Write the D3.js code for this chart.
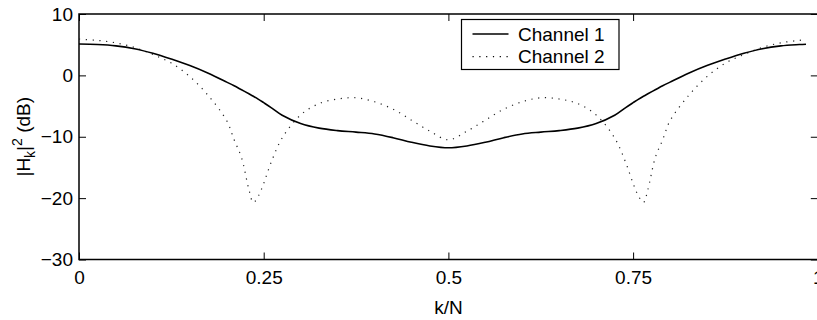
<!DOCTYPE html>
<html>
<head>
<meta charset="utf-8">
<script src="https://cdn.jsdelivr.net/npm/d3@7"></script>
<style>
  body { margin: 0; background: #fff; }
  svg { display: block; font-family: "Liberation Sans", Arial, Helvetica, sans-serif; }
</style>
</head>
<body>
<div id="chart"></div>
<script>
// ---------------------------
// Data
// ---------------------------
const kValues = [
  0, 0.025, 0.05, 0.075, 0.1, 0.125, 0.15, 0.175, 0.2, 0.21, 0.22, 0.23, 0.236, 0.243,
  0.25, 0.26, 0.275, 0.3, 0.325, 0.35, 0.375, 0.4, 0.425, 0.45, 0.475, 0.5,
  0.525, 0.55, 0.575, 0.6, 0.625, 0.65, 0.675, 0.7, 0.725, 0.74, 0.75, 0.757, 0.764,
  0.77, 0.78, 0.79, 0.8, 0.825, 0.85, 0.875, 0.9, 0.925, 0.95, 0.975, 0.984
];
const channel1 = [
  5.1, 5.02, 4.8, 4.35, 3.6, 2.65, 1.6, 0.35, -1.1, -1.7, -2.35, -3.0, -3.4, -3.9,
  -4.45, -5.25, -6.5, -7.85, -8.6, -9.0, -9.25, -9.55, -10.15, -10.9, -11.5, -11.8,
  -11.5, -10.9, -10.15, -9.55, -9.25, -9.0, -8.6, -7.85, -6.5, -5.25, -4.45, -3.9, -3.4,
  -3.0, -2.35, -1.7, -1.1, 0.35, 1.6, 2.65, 3.6, 4.35, 4.8, 5.02, 5.08
];
const channel2 = [
  5.9, 5.7, 5.3, 4.55, 3.4, 2.0, -0.2, -3.3, -7.4, -10.5, -13.4, -18.6, -20.7, -19.6,
  -17.6, -14.2, -10.2, -6.45, -4.6, -3.85, -3.65, -4.3, -5.5, -7.3, -9.1, -10.5,
  -9.1, -7.3, -5.5, -4.3, -3.65, -3.85, -4.6, -6.45, -10.2, -14.2, -17.6, -19.6, -20.7,
  -18.6, -13.4, -10.5, -7.4, -3.3, -0.2, 2.0, 3.4, 4.55, 5.3, 5.7, 5.8
];
const xTicks = [0, 0.25, 0.5, 0.75, 1];
const xTickLabels = ['0', '0.25', '0.5', '0.75', '1'];
const yTicks = [10, 0, -10, -20, -30];
const seriesNames = ['Channel 1', 'Channel 2'];

// ---------------------------
// Layout
// ---------------------------
const width = 817, height = 320;
const plot = { left: 79, right: 817.8, top: 14, bottom: 259.5 };
const tickLen = 7;
const fontSize = 19;

const svg = d3.select('#chart').append('svg')
  .attr('width', width)
  .attr('height', height);

const x = d3.scaleLinear().domain([0, 1]).range([plot.left, plot.right]);
const y = d3.scaleLinear().domain([-30, 10]).range([plot.bottom, plot.top]);

// ---------------------------
// Axes (ticks inward, box)
// ---------------------------
const xAxis = svg.append('g')
  .attr('transform', `translate(0,${plot.bottom})`)
  .call(d3.axisBottom(x)
    .tickValues(xTicks)
    .tickFormat((d, i) => xTickLabels[i])
    .tickSizeInner(-tickLen)
    .tickSizeOuter(0)
    .tickPadding(11));

const xTop = svg.append('g')
  .attr('transform', `translate(0,${plot.top})`)
  .call(d3.axisTop(x).tickValues(xTicks).tickFormat('').tickSizeInner(-tickLen).tickSizeOuter(0));

const yAxis = svg.append('g')
  .attr('transform', `translate(${plot.left},0)`)
  .call(d3.axisLeft(y)
    .tickValues(yTicks)
    .tickFormat(d3.format('d'))
    .tickSizeInner(-tickLen)
    .tickSizeOuter(0)
    .tickPadding(6));

const yRight = svg.append('g')
  .attr('transform', `translate(${plot.right},0)`)
  .call(d3.axisRight(y).tickValues(yTicks).tickFormat('').tickSizeInner(-tickLen).tickSizeOuter(0));

[xAxis, xTop, yAxis, yRight].forEach(g => {
  g.select('.domain').remove();
  g.selectAll('.tick line').attr('stroke', '#000').attr('stroke-width', 1);
  g.selectAll('.tick text')
    .attr('fill', '#000')
    .style('font-size', fontSize + 'px')
    .style('font-family', '"Liberation Sans", Arial, sans-serif');
});

svg.append('rect')
  .attr('x', plot.left)
  .attr('y', plot.top)
  .attr('width', plot.right - plot.left)
  .attr('height', plot.bottom - plot.top)
  .attr('fill', 'none')
  .attr('stroke', '#000')
  .attr('stroke-width', 1.5);

// ---------------------------
// Axis labels
// ---------------------------
svg.append('text')
  .attr('x', x(0.5))
  .attr('y', 314)
  .attr('text-anchor', 'middle')
  .style('font-size', fontSize + 'px')
  .text('k/N');

const yLabel = svg.append('text')
  .attr('transform', `translate(30,${(plot.top + plot.bottom) / 2}) rotate(-90)`)
  .attr('text-anchor', 'middle')
  .style('font-size', fontSize + 'px');
yLabel.append('tspan').text('|H');
yLabel.append('tspan').attr('dy', 5).style('font-size', '14px').text('k');
yLabel.append('tspan').attr('dy', -5).text('|');
yLabel.append('tspan').attr('dy', -8).style('font-size', '14px').text('2');
yLabel.append('tspan').attr('dy', 8).text(' (dB)');

// ---------------------------
// Curves
// ---------------------------
const line = d3.line()
  .x(d => x(d[0]))
  .y(d => y(d[1]))
  .curve(d3.curveCatmullRom.alpha(0.5));

const data1 = kValues.map((k, i) => [k, channel1[i]]);
const data2 = kValues.map((k, i) => [k, channel2[i]]);

svg.append('path')
  .datum(data2)
  .attr('d', line)
  .attr('fill', 'none')
  .attr('stroke', '#222')
  .attr('stroke-width', 1.2)
  .attr('stroke-dasharray', '1.2 5.6');

svg.append('path')
  .datum(data1)
  .attr('d', line)
  .attr('fill', 'none')
  .attr('stroke', '#000')
  .attr('stroke-width', 1.6);

// ---------------------------
// Legend
// ---------------------------
const legend = svg.append('g');
legend.append('rect')
  .attr('x', 461.5).attr('y', 19.5)
  .attr('width', 157.5).attr('height', 50)
  .attr('fill', '#fff')
  .attr('stroke', '#000')
  .attr('stroke-width', 1.2);

const legendRows = [
  { name: seriesNames[0], y: 34, dash: null, w: 1.6 },
  { name: seriesNames[1], y: 56.7, dash: '1.2 5.6', w: 1.2 }
];
legendRows.forEach(r => {
  legend.append('line')
    .attr('x1', 472.5).attr('x2', 508.5)
    .attr('y1', r.y).attr('y2', r.y)
    .attr('stroke', '#000')
    .attr('stroke-width', r.w)
    .attr('stroke-dasharray', r.dash);
  legend.append('text')
    .attr('x', 518)
    .attr('y', r.y + 6.5)
    .style('font-size', fontSize + 'px')
    .text(r.name);
});
</script>
</body>
</html>
